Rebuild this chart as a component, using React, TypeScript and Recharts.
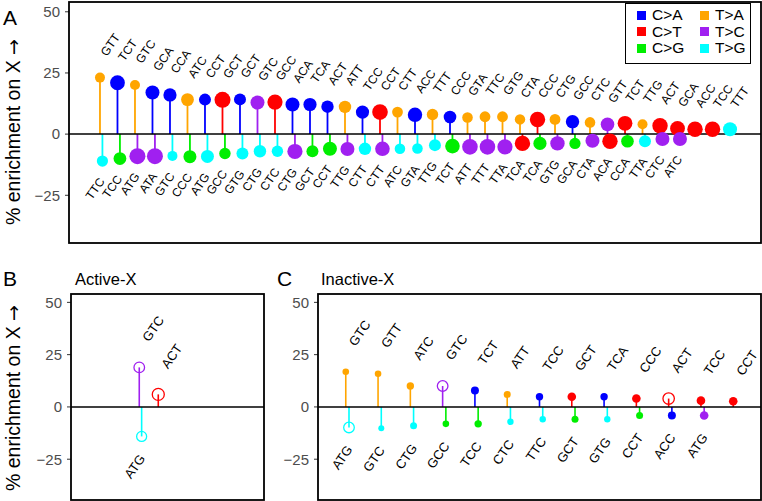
import React from 'react';
import { ScatterChart, Scatter, XAxis, YAxis, ReferenceLine, Legend } from 'recharts';

const FONT = '"Liberation Sans", Arial, Helvetica, sans-serif';

const MUTATION_TYPES = ['C>A', 'C>T', 'C>G', 'T>A', 'T>C', 'T>G'];
const COLORS: Record<string, string> = {
  'C>A': '#0000FF',
  'C>T': '#FF0000',
  'C>G': '#00EE00',
  'T>A': '#FFA500',
  'T>C': '#A020F0',
  'T>G': '#00FFFF',
};

const Y_TICKS = [-25, 0, 25, 50];
const Y_DOMAIN: [number, number] = [-44.5, 54];

// ---------- Panel A (all) ----------
const aTopLabels = ['GTT','TCT','GTC','GCA','CCA','ATC','CCT','GCT','GCT','GTC','GCC','ACA','TCA','ACT','ATT','TCC','CCT','CTT','ACC','TTT','CCC','GTA','TTC','GTG','CTA','CCC','CTG','GCC','CTC','GTT','TCT','TTG','ACT','GCA','ACC','TCC','TTT'];
const aTopTypes = ['T>A','C>A','T>A','C>A','C>A','T>A','C>A','C>T','C>A','T>C','C>T','C>A','C>A','C>A','T>A','C>A','C>T','T>A','C>A','T>A','C>A','T>A','T>A','T>A','T>A','C>T','T>A','C>A','T>A','T>C','C>T','T>A','C>T','C>T','C>T','C>T','T>G'];
const aTopValues = [23.1,21.0,20.1,17.0,16.0,14.1,14.1,14.0,14.2,12.9,13.1,12.1,12.1,11.2,11.1,9.0,9.0,9.0,7.9,8.0,7.0,6.8,7.1,7.1,6.0,6.0,6.0,5.1,4.8,4.0,4.4,4.0,3.4,2.3,2.0,2.0,2.0];
const aTopWeight = [5,7.4,5,7,6.6,6.4,6,8,6,7,7.6,7,6.6,6.2,6.2,6.6,7.8,5.4,7.2,5.7,6.3,5.3,5.4,5.4,5.2,7.7,5.4,6.7,5.3,6.8,7.4,5,7.7,7.4,7.7,7.7,7];

const aBotLabels = ['TTC','TCC','ATG','ATA','GTC','CCC','ATG','GCC','GTG','CTG','CTC','CTG','GCT','CCT','TTG','CTT','CTT','ATC','GTA','TTG','TCT','ATT','TTT','TTA','TCA','TCA','GTG','GCA','CTA','ACA','CCA','TTA','CTC','ATC'];
const aBotTypes = ['T>G','C>G','T>C','T>C','T>G','C>G','T>G','C>G','T>G','T>G','T>G','T>C','C>G','C>G','T>C','T>G','T>C','T>G','T>G','T>G','C>G','T>C','T>C','T>C','C>T','C>G','T>C','C>G','T>C','C>T','C>G','T>G','T>C','T>C'];
const aBotValues = [-11.0,-10.0,-9.0,-9.0,-8.9,-9.2,-9.1,-7.9,-7.9,-7.0,-7.0,-7.1,-7.0,-6.0,-6.1,-6.0,-6.0,-6.0,-5.9,-4.5,-4.9,-5.2,-5.2,-5.2,-3.8,-3.8,-3.8,-3.8,-2.7,-2.9,-2.9,-2.9,-2.0,-2.0];
const aBotWeight = [5.6,6.4,8,8,5,6.5,6.5,5.7,6,6.2,5.7,7.6,6,7,7,6.2,7.3,5.3,5.3,6,7.3,7.8,7.8,7.6,7.7,6.6,7.2,5.6,7,7.7,6.3,6,7,7];

// ---------- Panel B (Active-X) ----------
const bTopLabels = ['GTC', 'ACT'];
const bTopTypes = ['T>C', 'C>T'];
const bTopValues = [18.9, 6.0];
const bTopWeight = [5.3, 6];
const bTopOpen = [true, true];
const bBotLabels = ['ATG'];
const bBotTypes = ['T>G'];
const bBotValues = [-14.1];
const bBotWeight = [5];
const bBotOpen = [true];

// ---------- Panel C (Inactive-X) ----------
const cTopLabels = ['GTC','GTT','ATC','GTC','TCT','ATT','TCC','GCT','TCA','CCC','ACT','TCC','CCT'];
const cTopTypes = ['T>A','T>A','T>A','T>C','C>A','T>A','C>A','C>T','C>A','C>T','C>T','C>T','C>T'];
const cTopValues = [16.8,15.9,10.0,10.0,7.9,6.0,4.9,4.9,4.9,4.0,4.0,3.0,2.7];
const cTopWeight = [3.3,3.3,3.7,5.3,4,3.5,3.7,4.3,3.7,4.3,5.7,4.3,4.3];
const cTopOpen = [false,false,false,true,false,false,false,false,false,false,true,false,false];
const cBotLabels = ['ATG','GTC','CTG','GCC','TCC','CTC','TTC','GCT','GTG','CCT','ACC','ATG'];
const cBotTypes = ['T>G','T>G','T>G','C>G','C>G','T>G','T>G','C>G','T>G','C>G','C>A','T>C'];
const cBotValues = [-9.8,-10.2,-9.0,-8.1,-8.1,-7.1,-5.9,-5.9,-5.9,-4.1,-4.1,-4.1];
const cBotWeight = [5.3,3,3.5,3.3,3.7,3.2,3.2,3.5,3.2,3.5,4,4.3];
const cBotOpen = [true,false,false,false,false,false,false,false,false,false,false,false];

type Pt = { x: number; v: number; w: number; label: string; type: string; open: boolean; top: boolean };

function buildPoints(labels: string[], types: string[], values: number[], weights: number[], open: boolean[] | null, top: boolean, dodge: number): Pt[] {
  return labels.map((label, i) => ({
    x: i + (top ? 0 : dodge),
    v: values[i],
    w: weights[i],
    label,
    type: types[i],
    open: open ? open[i] : false,
    top,
  }));
}

type Cfg = { angle: number; fontSize: number; topDx: number; topDy: number; botDx: number; botDy: number; stem: number };

function makeShape(cfg: Cfg) {
  return (props: any) => {
    const { cx, cy, payload } = props;
    if (cx == null || cy == null || !payload) return <g />;
    const color = COLORS[payload.type];
    const r = payload.w;
    const ax = cx + (payload.top ? cfg.topDx : cfg.botDx);
    const ay = cy + (payload.top ? cfg.topDy : cfg.botDy);
    return (
      <g>
        {payload.open ? (
          <circle cx={cx} cy={cy} r={r} fill="none" stroke={color} strokeWidth={1.3} />
        ) : (
          <circle cx={cx} cy={cy} r={r} fill={color} />
        )}
        <text
          x={ax}
          y={ay}
          transform={`rotate(${-cfg.angle} ${ax} ${ay})`}
          textAnchor={payload.top ? 'start' : 'end'}
          dominantBaseline="central"
          fontSize={cfg.fontSize}
          fontFamily={FONT}
          fill="#000"
        >
          {payload.label}
        </text>
      </g>
    );
  };
}

const fmtTick = (v: number) => (v < 0 ? '\u2212' + Math.abs(v) : String(v));

function LegendBox() {
  return (
    <div style={{ width: 126, height: 61, border: '1.5px solid #000', boxSizing: 'border-box', background: '#fff', position: 'relative', fontFamily: FONT }}>
      {MUTATION_TYPES.map((t, i) => {
        const col = i < 3 ? 0 : 1;
        const row = i % 3;
        return (
          <div key={t} style={{ position: 'absolute', left: 11 + col * 63, top: 3 + row * 16.5, height: 16, display: 'flex', alignItems: 'center' }}>
            <div style={{ width: 9, height: 9, background: COLORS[t], marginRight: 6 }} />
            <span style={{ fontSize: 15.5, color: '#000', lineHeight: '16px' }}>{t}</span>
          </div>
        );
      })}
    </div>
  );
}

type PanelProps = {
  left: number; top: number; width: number; height: number;
  margin: { top: number; right: number; bottom: number; left: number };
  yWidth: number;
  xDomain: [number, number];
  points: Pt[];
  cfg: Cfg;
  legend?: boolean;
};

function Panel({ left, top, width, height, margin, yWidth, xDomain, points, cfg, legend }: PanelProps) {
  const shape = makeShape(cfg);
  return (
    <div style={{ position: 'absolute', left, top }}>
      <ScatterChart width={width} height={height} margin={margin}>
        <XAxis type="number" dataKey="x" domain={xDomain} hide allowDataOverflow />
        <YAxis
          type="number"
          dataKey="v"
          domain={Y_DOMAIN}
          ticks={Y_TICKS}
          tickFormatter={fmtTick}
          width={yWidth}
          axisLine={false}
          tickLine={{ stroke: '#333333', strokeWidth: 1 }}
          tickSize={4}
          tickMargin={5}
          tick={{ fill: '#4D4D4D', fontSize: 15, fontFamily: FONT }}
          allowDataOverflow
        />
        {points.map((p, i) => (
          <ReferenceLine
            key={'s' + i}
            segment={[{ x: p.x, y: 0 }, { x: p.x, y: p.v }]}
            stroke={COLORS[p.type]}
            strokeWidth={cfg.stem}
            ifOverflow="visible"
          />
        ))}
        <ReferenceLine y={0} stroke="#000" strokeWidth={1.5} />
        <Scatter data={points} shape={shape} isAnimationActive={false} />
        {legend && (
          <Legend
            layout="horizontal"
            verticalAlign="middle"
            align="center"
            wrapperStyle={{ position: 'absolute', left: 625, top: 3, width: 126, height: 61 }}
            content={() => <LegendBox />}
          />
        )}
      </ScatterChart>
    </div>
  );
}

function AxisTitle({ x, y }: { x: number; y: number }) {
  return (
    <text x={x} y={y} transform={`rotate(-90 ${x} ${y})`} textAnchor="middle" fontSize={19.5} fontFamily={FONT} fill="#000">
      % enrichment on X <tspan fontFamily='"DejaVu Sans", sans-serif' fontSize={19}>→</tspan>
    </text>
  );
}

export default function App() {
  const aPoints = [
    ...buildPoints(aTopLabels, aTopTypes, aTopValues, aTopWeight, null, true, 0.14),
    ...buildPoints(aBotLabels, aBotTypes, aBotValues, aBotWeight, null, false, 0.14),
  ];
  const bPoints = [
    ...buildPoints(bTopLabels, bTopTypes, bTopValues, bTopWeight, bTopOpen, true, 0.125),
    ...buildPoints(bBotLabels, bBotTypes, bBotValues, bBotWeight, bBotOpen, false, 0.125),
  ];
  const cPoints = [
    ...buildPoints(cTopLabels, cTopTypes, cTopValues, cTopWeight, cTopOpen, true, 0.1),
    ...buildPoints(cBotLabels, cBotTypes, cBotValues, cBotWeight, cBotOpen, false, 0.1),
  ];
  const cfgA: Cfg = { angle: 55, fontSize: 12, topDx: 3.5, topDy: -23, botDx: -0.5, botDy: 18, stem: 1.8 };
  const cfgBC: Cfg = { angle: 55, fontSize: 13, topDx: 6, topDy: -27.5, botDx: 0.5, botDy: 19.5, stem: 1.6 };

  return (
    <div style={{ position: 'absolute', left: 0, top: 0, width: 762, height: 501, background: '#fff', overflow: 'hidden', fontFamily: FONT }}>
      <Panel left={0} top={0} width={762} height={250} margin={{ top: 2, right: 1, bottom: 7, left: 0 }} yWidth={69}
        xDomain={[-1.77, 37.77]} points={aPoints} cfg={cfgA} legend />
      <Panel left={0} top={280} width={270} height={221} margin={{ top: 14, right: 6, bottom: 1, left: 0 }} yWidth={71}
        xDomain={[-3.59, 6.56]} points={bPoints} cfg={cfgBC} />
      <Panel left={270} top={280} width={492} height={221} margin={{ top: 14, right: 1, bottom: 1, left: 0 }} yWidth={48}
        xDomain={[-0.86, 12.86]} points={cPoints} cfg={cfgBC} />
      <svg width={762} height={501} style={{ position: 'absolute', left: 0, top: 0, pointerEvents: 'none' }}>
        <rect x={69} y={2} width={692} height={241} fill="none" stroke="#000" strokeWidth={1.8} />
        <rect x={71} y={294} width={193} height={206} fill="none" stroke="#000" strokeWidth={1.8} />
        <rect x={318} y={294} width={443} height={206} fill="none" stroke="#000" strokeWidth={1.8} />
        <text x={3} y={25} fontSize={21} fontFamily={FONT} fill="#000">A</text>
        <text x={3} y={286} fontSize={21} fontFamily={FONT} fill="#000">B</text>
        <text x={277} y={286} fontSize={21} fontFamily={FONT} fill="#000">C</text>
        <text x={75} y={285} fontSize={16.5} fontFamily={FONT} fill="#000">Active-X</text>
        <text x={321} y={285} fontSize={16.5} fontFamily={FONT} fill="#000">Inactive-X</text>
        <AxisTitle x={20} y={132} />
        <AxisTitle x={20} y={398} />
      </svg>
    </div>
  );
}
